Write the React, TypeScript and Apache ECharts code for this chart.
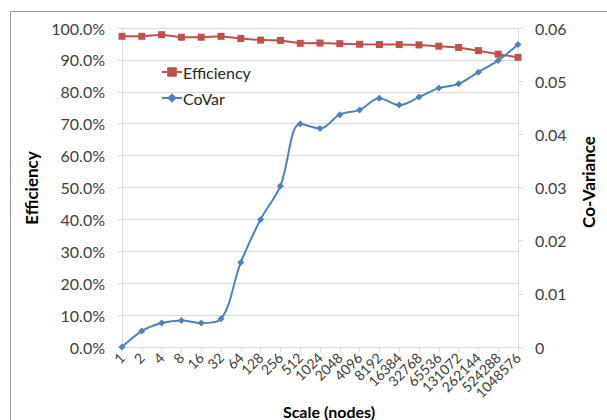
import React, { useEffect, useRef } from "react";
import * as echarts from "echarts";

const categories = ["1", "2", "4", "8", "16", "32", "64", "128", "256", "512", "1024", "2048", "4096", "8192", "16384", "32768", "65536", "131072", "262144", "524288", "1048576"];
const efficiency = [97.4, 97.4, 97.9, 97.1, 97.1, 97.4, 96.7, 96.2, 96.1, 95.2, 95.3, 95.1, 94.9, 94.8, 94.8, 94.7, 94.3, 93.9, 92.9, 91.8, 90.8];
const covar = [0, 0.0030, 0.0045, 0.0050, 0.0045, 0.0053, 0.0159, 0.0240, 0.0303, 0.0420, 0.0411, 0.0437, 0.0446, 0.0468, 0.0455, 0.0470, 0.0487, 0.0495, 0.0517, 0.0539, 0.0569];
const leftTicks = { min: 0, max: 100, interval: 10 };
const rightTicks = { min: 0, max: 0.06, interval: 0.01 };

const FONT = "Lato";
const TXT = "#404040";
const GRID = "#d9d9d9";

export default function App() {
  const ref = useRef<HTMLDivElement>(null);
  useEffect(() => {
    if (!ref.current) return;
    const chart = echarts.init(ref.current, undefined, { renderer: "svg" });
    chart.setOption({
      animation: false,
      backgroundColor: "#ffffff",
      textStyle: { fontFamily: FONT },
      grid: { left: 122, right: 89, top: 28, bottom: 73, containLabel: false },
      legend: {
        orient: "vertical",
        left: 156,
        top: 59,
        itemWidth: 20,
        itemHeight: 12,
        itemGap: 10,
        textStyle: { fontFamily: FONT, fontSize: 16, color: "#262626", padding: [0, 0, 0, -4] },
        data: ["Efficiency", "CoVar"],
      },
      xAxis: {
        type: "category",
        data: categories,
        boundaryGap: false,
        axisLine: { show: true, lineStyle: { color: GRID, width: 1 } },
        axisTick: { show: true, length: 5, interval: 0, lineStyle: { color: GRID } },
        axisLabel: { interval: 0, rotate: 45, fontSize: 14, color: TXT, fontFamily: FONT, margin: 8 },
        splitLine: { show: false },
      },
      yAxis: [
        {
          type: "value",
          min: leftTicks.min,
          max: leftTicks.max,
          interval: leftTicks.interval,
          axisLine: { show: true, lineStyle: { color: GRID } },
          axisTick: { show: true, length: 5, lineStyle: { color: GRID } },
          axisLabel: { fontSize: 16, color: TXT, fontFamily: FONT, margin: 17, formatter: (v: number) => v.toFixed(1) + "%" },
          splitLine: { show: true, lineStyle: { color: GRID, width: 1 } },
        },
        {
          type: "value",
          position: "right",
          min: rightTicks.min,
          max: rightTicks.max,
          interval: rightTicks.interval,
          axisLine: { show: true, lineStyle: { color: GRID } },
          axisTick: { show: true, length: 5, lineStyle: { color: GRID } },
          axisLabel: { fontSize: 16, color: TXT, fontFamily: FONT, margin: 17, formatter: (v: number) => (v === 0 ? "0" : v.toFixed(2)) },
          splitLine: { show: false },
        },
      ],
      series: [
        {
          name: "Efficiency",
          type: "line",
          yAxisIndex: 0,
          data: efficiency,
          symbol: "rect",
          symbolSize: 7,
          color: "#C0504D",
          itemStyle: { color: "#C0504D" },
          lineStyle: { color: "#C0504D", width: 2 },
        },
        {
          name: "CoVar",
          type: "line",
          yAxisIndex: 1,
          data: covar,
          symbol: "diamond",
          symbolSize: 7,
          smooth: 0.35,
          color: "#4F81BD",
          itemStyle: { color: "#4F81BD" },
          lineStyle: { color: "#4F81BD", width: 2 },
        },
      ],
      graphic: [
        {
          type: "rect",
          shape: { x: 10.5, y: 11.5, width: 700, height: 500 },
          style: { fill: "none", stroke: "#9a9a9a", lineWidth: 1 },
          silent: true,
        },
        {
          type: "text",
          x: 31,
          y: 188,
          rotation: Math.PI / 2,
          style: { text: "Efficiency", fontFamily: FONT, fontSize: 17, fontWeight: "bold", fill: "#000", align: "center", verticalAlign: "middle" },
        },
        {
          type: "text",
          x: 588,
          y: 182,
          rotation: Math.PI / 2,
          style: { text: "Co-Variance", fontFamily: FONT, fontSize: 17, fontWeight: "bold", fill: "#000", align: "center", verticalAlign: "middle" },
        },
        {
          type: "text",
          x: 329,
          y: 411,
          style: { text: "Scale (nodes)", fontFamily: FONT, fontSize: 16, fontWeight: "bold", fill: "#000", align: "center", verticalAlign: "middle" },
        },
      ],
    });
    return () => chart.dispose();
  }, []);
  return <div ref={ref} style={{ position: "fixed", left: 0, top: 0, width: 607, height: 420 }} />;
}
